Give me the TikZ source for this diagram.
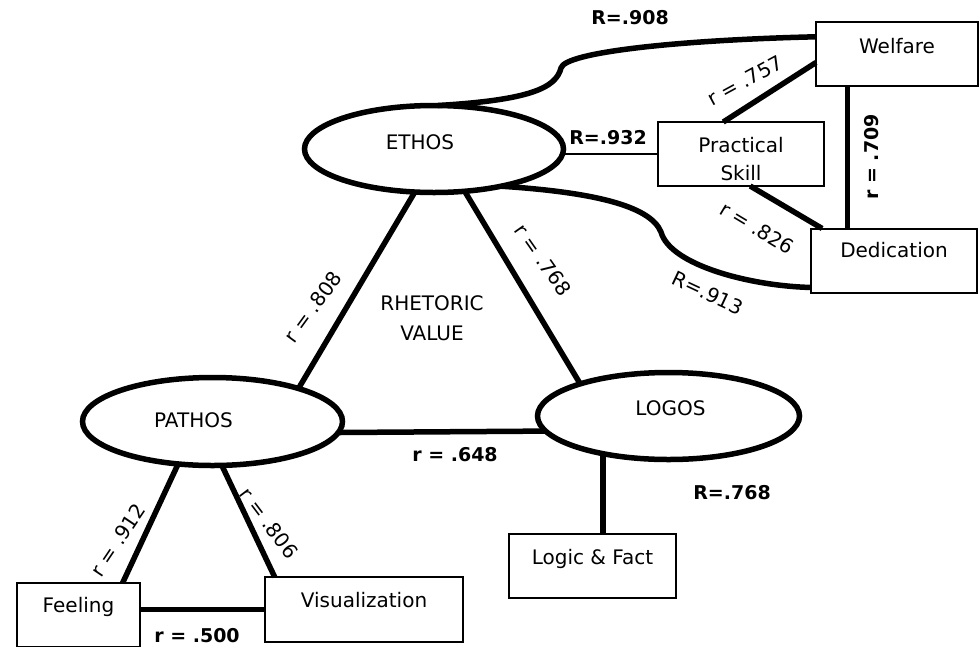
\documentclass[tikz,border=0pt]{standalone}
\usepackage{fontspec}
\setmainfont{DejaVu Sans}
\usetikzlibrary{shapes.geometric}
\usetikzlibrary{calc}

\begin{document}
\begin{tikzpicture}[x=1pt,y=-1pt,
    every node/.style={font=\fontsize{20}{24}\selectfont},
    appeal/.style={ellipse,draw,line width=5.5pt,inner sep=0pt,outer sep=0pt},
    factor/.style={rectangle,draw,line width=2pt,inner sep=0pt,outer sep=0pt,minimum height=64pt},
    link/.style={line width=5.5pt},
    coef/.style={font=\fontsize{20}{24}\selectfont},
    bcoef/.style={font=\fontsize{19}{23}\selectfont\bfseries}]
    \useasboundingbox (0,0) rectangle (980,646);

    \node[appeal,minimum width=259pt,minimum height=87pt,
          label={[xshift=-14pt,yshift=7pt]center:ETHOS}] (ethos) at (434,149) {};
    \node[appeal,minimum width=260pt,minimum height=88pt,
          label={[xshift=-19pt,yshift=1pt]center:PATHOS}] (pathos) at (212.5,421.5) {};
    \node[appeal,minimum width=262pt,minimum height=87pt,
          label={[xshift=2pt,yshift=8pt]center:LOGOS}] (logos) at (668.5,416) {};

    \node[factor,minimum width=162pt,label={[yshift=8pt]center:Welfare}] (welfare) at (897,54) {};
    \node[factor,minimum width=166pt,
          label={[yshift=-5pt,align=center,font=\fontsize{20}{28}\selectfont]center:Practical\\Skill}] (practical) at (741,154) {};
    \node[factor,minimum width=166pt,label={[yshift=10pt]center:Dedication}] (dedication) at (894,260.5) {};
    \node[factor,minimum width=167pt,label={[yshift=7pt]center:Logic \& Fact}] (logic) at (592.5,566) {};
    \node[factor,minimum width=123pt,label={[yshift=8pt]center:Feeling}] (feeling) at (78.5,615) {};
    \node[factor,minimum width=198pt,minimum height=65pt,label={[yshift=9pt]center:Visualization}] (visual) at (364,609.5) {};

    \node[align=center,font=\fontsize{20}{30}\selectfont] (value) at (432,318) {RHETORIC\\VALUE};

    \draw[link] (ethos.-114) -- (pathos.21);
    \draw[link] (ethos.-54) -- (logos.160);
    \draw[link] (pathos.-5) -- (logos.187);
    \draw[link] (pathos.-129) -- (feeling.36);
    \draw[link] (pathos.-78) -- (visual.160);
    \draw[link] (visual.west -| feeling.east) -- (visual.west);
    \draw[link] (logos.-150) -- (logos.-150 |- logic.north);
    \draw[line width=2pt] (practical.west -| ethos.east) -- (practical.west);
    \draw[link] (practical.119) -- (welfare.186);
    \draw[link] (practical.-74) -- (dedication.156);
    \draw[link] (welfare.-147) -- (welfare.-147 |- dedication.north);
    \draw[link] (ethos.85) .. controls (530,100) and (556,88) .. (561,68)
        .. controls (565,52) and (680,40) .. (welfare.168);
    \draw[link] (ethos.-29) .. controls (590,192) and (650,205) .. (661,232)
        .. controls (670,265) and (750,286) .. (dedication.198);

    \node[bcoef] (r908) at (630,18) {R=.908};
    \node[bcoef] (r932) at (608,138) {R=.932};
    \node[coef,rotate=28.5] (r757) at (745,81) {r = .757};
    \node[bcoef,rotate=90] (r709) at (872,157) {r = .709};
    \node[coef,rotate=-31] (r826) at (757,228) {r = .826};
    \node[coef,rotate=-25] (r913) at (708,293) {R=.913};
    \node[coef,rotate=54] (r808) at (313,307) {r = .808};
    \node[coef,rotate=-55] (r768) at (543,260) {r = .768};
    \node[bcoef] (r648) at (455,455) {r = .648};
    \node[bcoef] (rr768) at (732,493) {R=.768};
    \node[coef,rotate=56] (r912) at (118,540) {r = .912};
    \node[coef,rotate=-53] (r806) at (269,523) {r = .806};
    \node[bcoef] (r500) at (197,635.5) {r = .500};
\end{tikzpicture}
\end{document}
